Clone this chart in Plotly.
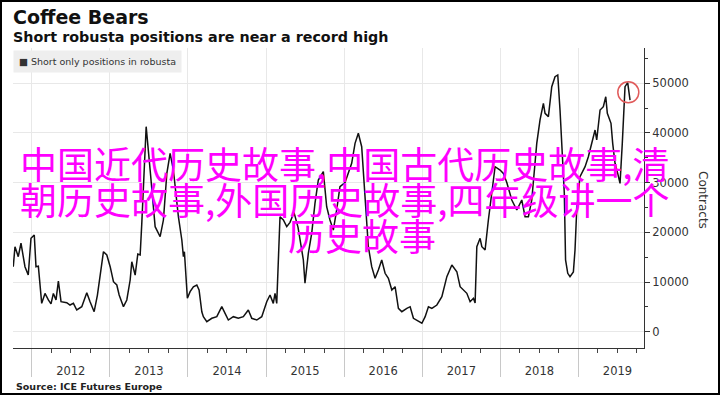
import plotly.graph_objects as go
import pandas as pd

# ---- data ----
decimal_years = [
    2011.764, 2011.786, 2011.828, 2011.863, 2011.914, 2011.956, 2011.991, 2012.033, 2012.055, 2012.085,
    2012.128, 2012.170, 2012.213, 2012.247, 2012.277, 2012.311, 2012.341, 2012.375, 2012.448, 2012.490,
    2012.533, 2012.576, 2012.640, 2012.704, 2012.746, 2012.798, 2012.840, 2012.917, 2012.960, 2013.003,
    2013.045, 2013.088, 2013.118, 2013.173, 2013.216, 2013.259, 2013.280, 2013.323, 2013.357, 2013.387,
    2013.408, 2013.464, 2013.515, 2013.579, 2013.643, 2013.685, 2013.729, 2013.771, 2013.813, 2013.857,
    2013.877, 2013.921, 2013.941, 2013.954, 2013.992, 2014.027, 2014.069, 2014.113, 2014.142, 2014.177,
    2014.197, 2014.241, 2014.305, 2014.369, 2014.433, 2014.475, 2014.517, 2014.581, 2014.645, 2014.709,
    2014.773, 2014.817, 2014.881, 2014.945, 2015.009, 2015.051, 2015.093, 2015.115, 2015.137, 2015.179,
    2015.222, 2015.265, 2015.307, 2015.358, 2015.410, 2015.478, 2015.499, 2015.542, 2015.585, 2015.627,
    2015.670, 2015.734, 2015.777, 2015.819, 2015.862, 2015.905, 2015.947, 2016.012, 2016.097, 2016.140,
    2016.182, 2016.225, 2016.268, 2016.310, 2016.353, 2016.396, 2016.438, 2016.481, 2016.524, 2016.566,
    2016.610, 2016.652, 2016.694, 2016.738, 2016.802, 2016.844, 2016.886, 2016.930, 2016.994, 2017.036,
    2017.078, 2017.122, 2017.186, 2017.250, 2017.314, 2017.378, 2017.442, 2017.484, 2017.526, 2017.570,
    2017.612, 2017.654, 2017.676, 2017.698, 2017.740, 2017.762, 2017.804, 2017.846, 2017.932, 2017.996,
    2018.038, 2018.082, 2018.146, 2018.210, 2018.274, 2018.316, 2018.359, 2018.402, 2018.466, 2018.508,
    2018.551, 2018.572, 2018.615, 2018.658, 2018.700, 2018.735, 2018.764, 2018.794, 2018.819, 2018.835,
    2018.863, 2018.892, 2018.935, 2018.956, 2018.978, 2019.020, 2019.085, 2019.127, 2019.170, 2019.213,
    2019.234, 2019.277, 2019.319, 2019.350, 2019.370, 2019.417, 2019.439, 2019.469, 2019.503, 2019.533,
    2019.562, 2019.597, 2019.631, 2019.661,
]
short_positions = [
    13080, 17100, 15100, 17800, 13080, 11400, 18800, 19460, 13080, 13200,
    5700, 7700, 6400, 5600, 7700, 6400, 10200, 6040, 5840, 5370,
    5700, 4370, 5030, 7850, 6040, 4020, 7380, 16100, 15430, 13080,
    10060, 9400, 7380, 5030, 6380, 10400, 14080, 11400, 15630, 15430,
    21800, 41250, 32530, 21130, 19110, 22470, 31860, 35890, 32530, 25830,
    23140, 18450, 15090, 16100, 6720, 8050, 9050, 9400, 8390, 4020,
    3020, 2010, 2700, 3020, 5030, 3700, 2350, 3020, 2700, 3020,
    4370, 2700, 2350, 3020, 6040, 7380, 5700, 7720, 5700, 23140,
    22470, 21130, 22000, 24000, 21000, 14430, 9740, 15770, 19800, 25830,
    30520, 32200, 25150, 22470, 20450, 24490, 29170, 30000, 33880, 37900,
    39920, 37220, 28000, 17100, 13080, 10740, 12410, 14430, 11750, 10740,
    8390, 9050, 4700, 4020, 4700, 5030, 2700, 2350, 1700, 3020,
    5030, 4700, 5370, 7040, 11070, 13420, 12070, 9050, 8390, 7720,
    6040, 6720, 5800, 17100, 18790, 17100, 16440, 22470, 33200, 32530,
    31860, 30000, 26500, 24490, 26500, 23140, 23140, 26500, 37900, 42600,
    45950, 43940, 43270, 49300, 51300, 51650, 44600, 34550, 27850, 14430,
    11750, 11070, 12000, 16440, 24490, 31190, 33200, 35210, 37900, 40580,
    38570, 44600, 45270, 47280, 43940, 41930, 37900, 33880, 31860, 29850,
    37900, 49300, 50100, 46600,
]
highlight_year = [2019.639]
highlight_value = [48170]

series_name = "Short only positions in robusta"
title_text = "Coffee Bears"
subtitle_text = "Short robusta positions are near a record high"
source_text = "Source: ICE Futures Europe"
yaxis_title = "Contracts"
overlay_lines = ["中国近代历史故事,中国古代历史故事,清", "朝历史故事,外国历史故事,四年级讲一个", "历史故事"]


def to_date(t):
    y = int(t)
    start = pd.Timestamp(year=y, month=1, day=1)
    end = pd.Timestamp(year=y + 1, month=1, day=1)
    return start + (end - start) * (t - y)


dates = [to_date(t) for t in decimal_years]
hl_dates = [to_date(t) for t in highlight_year]

W, H = 720, 395
L, R, T, B = 13, 76, 48, 47
PW, PH = W - L - R, H - T - B


def px(xp):
    return (xp - L) / PW


def py(yp):
    return (H - B - yp) / PH


fig = go.Figure()
fig.add_trace(go.Scatter(x=dates, y=short_positions, mode="lines",
                         line=dict(color="#111111", width=1.5), name=series_name,
                         showlegend=False, hoverinfo="skip"))
fig.add_trace(go.Scatter(x=hl_dates, y=highlight_value, mode="markers",
                         marker=dict(symbol="circle-open", size=21, color="#e05a5a",
                                     line=dict(width=1.5, color="#e05a5a")),
                         showlegend=False, hoverinfo="skip"))

fig.update_layout(
    width=W, height=H,
    margin=dict(l=L, r=R, t=T, b=B, autoexpand=False),
    paper_bgcolor="white", plot_bgcolor="white",
    font=dict(family="DejaVu Sans", color="#333333"),
    xaxis=dict(
        type="date", automargin=False,
        range=[to_date(2011.7606), to_date(2019.840)],
        tick0="2012-01-01", dtick="M12", tickformat="%Y",
        ticklabelmode="period",
        ticks="outside", ticklen=28, tickcolor="#c8c8c8", tickwidth=1,
        ticklabelstandoff=-16,
        tickfont=dict(size=11.5, color="#333333"),
        showgrid=True, gridcolor="#e8e8e8", gridwidth=1,
        showline=True, linecolor="#333333", linewidth=1,
        minor=dict(ticks="outside", dtick="M3", tick0="2012-01-01", ticklen=4,
                   tickcolor="#444444", showgrid=False),
        zeroline=False,
    ),
    yaxis=dict(
        side="right", automargin=False,
        range=[-3280, 57080],
        tick0=0, dtick=10000, tickformat="d",
        ticks="outside", ticklen=5, tickcolor="#333333",
        tickfont=dict(size=11.5, color="#333333"),
        showgrid=True, gridcolor="#e8e8e8", gridwidth=1,
        showline=True, linecolor="#333333", linewidth=1,
        minor=dict(ticks="outside", dtick=5000, ticklen=3, tickcolor="#333333", showgrid=False),
        zeroline=False,
    ),
)

ann = []
ann.append(dict(text="<b>" + title_text + "</b>", xref="paper", yref="paper", x=px(11), y=py(17),
                xanchor="left", yanchor="middle", showarrow=False,
                font=dict(size=19, family="DejaVu Sans", color="#111111")))
ann.append(dict(text="<b>" + subtitle_text + "</b>", xref="paper", yref="paper", x=px(11), y=py(37),
                xanchor="left", yanchor="middle", showarrow=False,
                font=dict(size=14.3, family="DejaVu Sans", color="#111111")))
ann.append(dict(text="■ " + series_name, xref="paper", yref="paper", x=px(13), y=py(50),
                xanchor="left", yanchor="top", showarrow=False, bgcolor="#eeeeee", borderpad=5,
                font=dict(size=9.5, family="DejaVu Sans", color="#333333")))
ann.append(dict(text="<b>" + source_text + "</b>", xref="paper", yref="paper", x=px(14), y=py(386),
                xanchor="left", yanchor="middle", showarrow=False,
                font=dict(size=9.5, family="DejaVu Sans", color="#222222")))
ann.append(dict(text=yaxis_title, xref="paper", yref="paper", x=px(703), y=py(200),
                xanchor="center", yanchor="middle", showarrow=False, textangle=90,
                font=dict(size=12, family="DejaVu Sans", color="#333333")))
for txt, xl, yc in zip(overlay_lines, [18, 18, 286], [163, 199, 235]):
    ann.append(dict(text=txt, xref="paper", yref="paper", x=px(xl), y=py(yc),
                    xanchor="left", yanchor="middle", showarrow=False,
                    font=dict(size=37, family="Noto Sans CJK SC", color="#ff00ff")))
fig.update_layout(annotations=ann)

fig.add_shape(type="rect", xref="paper", yref="paper",
              x0=px(0), x1=px(W), y0=py(H), y1=py(0),
              line=dict(color="#000000", width=4), fillcolor="rgba(0,0,0,0)", layer="above")

fig.write_html("out.html", config={"displayModeBar": False},
               post_script="document.body.style.margin='0';")
